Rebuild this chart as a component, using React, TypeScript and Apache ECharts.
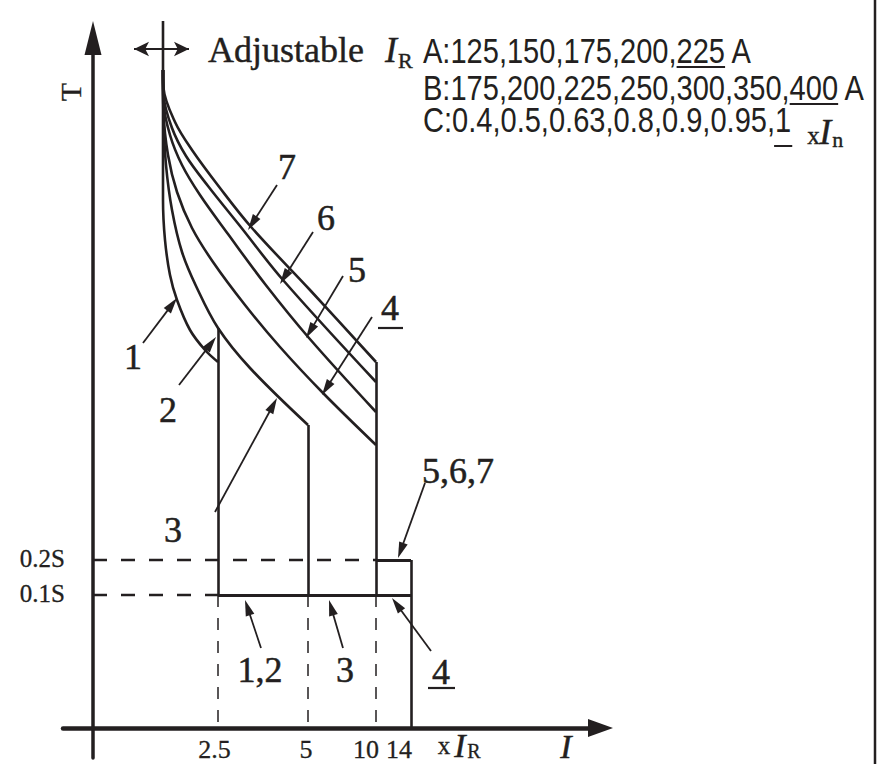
import React, { useEffect, useRef } from "react";
import * as echarts from "echarts";

type P = [number, number];

const INK = "#231f20";
const SERIF = '"Liberation Serif", "Times New Roman", serif';
const SANS = '"Liberation Sans", Arial, sans-serif';

// Schematic coordinates: u along the current axis, v along the time axis.
const curve1: P[] = [[70, 707], [70, 528], [72, 488], [77, 453], [84, 428], [97, 398], [112, 378], [125, 366]];
const curve3: P[] = [[70, 658], [70.5, 610], [73, 563], [79, 518], [89, 476], [103, 442], [125, 400], [157, 360], [215, 303]];
const curve4: P[] = [[70, 658], [70.5, 616], [75, 573], [84, 536], [99, 500], [120, 466], [152, 423], [187, 381], [230, 335], [283, 283]];
const curve5: P[] = [[70, 658], [70.5, 626], [77, 593], [89, 563], [107, 533], [135, 494], [172, 444], [216, 390], [283, 316]];
const curve6: P[] = [[70, 658], [70.5, 633], [79, 600], [93, 572], [115, 542], [147, 502], [190, 448], [283, 346]];
const curve7: P[] = [[70, 658], [70.5, 640], [82, 606], [99, 578], [127, 540], [159, 500], [217, 438], [283, 366]];

const instantaneous: P[][] = [
  [[125, 400], [125, 133]],
  [[215, 303], [215, 133]],
  [[283, 366], [283, 133]],
  [[318, 168], [318, 0]],
];
const shortTime: P[][] = [
  [[125, 133], [318, 133]],
  [[283, 168], [318, 168]],
];
const refDashH: P[][] = [
  [[0, 168], [283, 168]],
  [[0, 133], [125, 133]],
];
const refDashV: P[][] = [
  [[125, 133], [125, 0]],
  [[215, 133], [215, 0]],
  [[283, 133], [283, 0]],
];

const leaders: [P, P][] = [
  [[50, 385], [84, 430]],
  [[86, 343], [123, 391]],
  [[122, 216], [184, 330]],
  [[279, 411], [229, 333]],
  [[250, 452], [213, 390]],
  [[220, 496], [187, 444]],
  [[184, 543], [155, 498]],
  [[332, 245], [305, 170]],
  [[168, 80], [152, 128]],
  [[250, 80], [236, 128]],
  [[338, 77], [299, 130]],
];
const adjustArrow: [P, P] = [[34, 679], [103, 679]];

const curveLabels: { text: string; at: P }[] = [
  { text: "1", at: [40, 371] },
  { text: "2", at: [75, 318] },
  { text: "3", at: [80, 198] },
  { text: "4", at: [297, 420] },
  { text: "5", at: [264, 458] },
  { text: "6", at: [233, 510] },
  { text: "7", at: [194, 561] },
  { text: "5,6,7", at: [365, 257] },
  { text: "1,2", at: [167, 58] },
  { text: "3", at: [252, 58] },
  { text: "4", at: [348, 56] },
];
const underlines: P[][] = [
  [[285, 400], [310, 400]],
  [[335, 40], [362, 40]],
];

const xTickPos = [125, 215, 283, 318];
const xTickText = ["2.5", "5", "10", "14"];
const yTickPos = [133, 168];
const yTickText = ["0.1S", "0.2S"];

const rangeA = ["125", "150", "175", "200", "225"];
const rangeB = ["175", "200", "225", "250", "300", "350", "400"];
const rangeC = ["0.4", "0.5", "0.63", "0.8", "0.9", "0.95", "1"];

function pullBack(from: P, to: P, d: number): P {
  const dx = to[0] - from[0];
  const dy = to[1] - from[1];
  const L = Math.hypot(dx, dy);
  return [to[0] - (dx / L) * d, to[1] - (dy / L) * d];
}

function measure(text: string, font: string): number {
  const c = document.createElement("canvas").getContext("2d");
  if (!c) return text.length * 10;
  c.font = font;
  return c.measureText(text).width;
}

export default function App() {
  const ref = useRef<HTMLDivElement>(null);

  useEffect(() => {
    if (!ref.current) return;
    const chart = echarts.init(ref.current, undefined, { renderer: "svg" });

    const curveSeries = [curve1, curve3, curve4, curve5, curve6, curve7].map((c, i) => ({
      type: "line",
      name: "curve" + i,
      data: c,
      smooth: 0.35,
      showSymbol: false,
      symbol: "none",
      clip: false,
      silent: true,
      lineStyle: { color: INK, width: 2.6 },
    }));

    const segs = (arr: P[][], style: any, name: string) => ({
      type: "lines",
      name,
      coordinateSystem: "cartesian2d",
      polyline: false,
      clip: false,
      silent: true,
      symbol: ["none", "none"],
      lineStyle: { color: INK, opacity: 1, curveness: 0, ...style },
      data: arr.map((s) => ({ coords: s })),
    });

    const leaderSeries = {
      type: "lines",
      name: "leaders",
      coordinateSystem: "cartesian2d",
      clip: false,
      silent: true,
      symbol: ["none", "triangle"],
      symbolSize: [0, [9, 16]],
      lineStyle: { color: INK, width: 1.8, opacity: 1, curveness: 0 },
      itemStyle: { color: INK },
      data: leaders.map(([a, b]) => ({ coords: [a, pullBack(a, b, 8)] })),
    };

    const adjSeries = {
      type: "lines",
      name: "adjust",
      coordinateSystem: "cartesian2d",
      clip: false,
      silent: true,
      symbol: ["arrow", "arrow"],
      symbolSize: [[11, 15], [11, 15]],
      lineStyle: { color: INK, width: 1.8, opacity: 1, curveness: 0 },
      data: [
        {
          coords: [pullBack(adjustArrow[1], adjustArrow[0], 7), pullBack(adjustArrow[0], adjustArrow[1], 7)],
        },
      ],
    };

    const labelBase = {
      show: true,
      position: "inside",
      align: "center",
      verticalAlign: "middle",
      color: INK,
      opacity: 1,
      fontFamily: SERIF,
      textBorderColor: INK,
      textBorderWidth: 0.5,
    };

    // nudges of tick labels relative to their tick (style only)
    const xNudge = [-3.5, -2, -10, -12];

    const labelSeries = {
      type: "scatter",
      name: "labels",
      symbol: "circle",
      symbolSize: 1,
      clip: false,
      silent: true,
      itemStyle: { color: "rgba(0,0,0,0)" },
      label: { ...labelBase, fontSize: 36, formatter: (p: any) => p.name },
      data: [
        ...curveLabels.map((l) => ({ name: l.text, value: l.at })),
        ...xTickPos.map((u, i) => ({
          name: xTickText[i],
          value: [u, 0],
          label: { ...labelBase, fontSize: 26, textBorderWidth: 0.3, offset: [xNudge[i], 21] },
        })),
        ...yTickPos.map((v, i) => ({
          name: yTickText[i],
          value: [0, v],
          label: { ...labelBase, fontSize: 25, textBorderWidth: 0.3, align: "right", offset: [-28, -2] },
        })),
        { name: "T", value: [-23, 636], label: { ...labelBase, fontSize: 30, rotate: 90, textBorderWidth: 0.3 } },
        { name: "x", value: [351, -17], label: { ...labelBase, fontSize: 25, textBorderWidth: 0.3 } },
        { name: "I", value: [367, -17], label: { ...labelBase, fontSize: 34, fontStyle: "italic" } },
        { name: "R", value: [381, -23], label: { ...labelBase, fontSize: 20, textBorderWidth: 0.3 } },
        { name: "I", value: [473, -18], label: { ...labelBase, fontSize: 34, fontStyle: "italic" } },
      ],
    };

    // Header text block
    const hdrFs = 35;
    const sx = 0.83;
    const hdrFont = `${hdrFs}px "Liberation Sans", Arial, sans-serif`;
    const hx = 423;
    const lineA = `A:${rangeA.join(",")} A`;
    const lineB = `B:${rangeB.join(",")} A`;
    const lineC = `C:${rangeC.join(",")}`;
    const ul = (prefixParts: string[], lastPart: string, lead: string) => {
      const start = measure(lead + prefixParts.join(",") + ",", hdrFont) * sx;
      const end = measure(lead + prefixParts.join(",") + "," + lastPart, hdrFont) * sx;
      return [hx + start, hx + end];
    };
    const uA = ul(rangeA.slice(0, -1), rangeA[rangeA.length - 1], "A:");
    const uB = ul(rangeB.slice(0, -1), rangeB[rangeB.length - 1], "B:");
    const uC = ul(rangeC.slice(0, -1), rangeC[rangeC.length - 1], "C:");
    const cEnd = hx + measure(lineC, hdrFont) * sx;
    const adjW = measure("Adjustable", `36px "Liberation Serif"`);

    const sansText = (text: string, baseline: number) => ({
      type: "text",
      x: hx,
      y: baseline - 0.35 * hdrFs,
      scaleX: sx,
      silent: true,
      style: { text, fontSize: hdrFs, fontFamily: SANS, fill: INK, align: "left", verticalAlign: "middle" },
    });
    const serifText = (text: string, x: number, baseline: number, fs: number, italic = false) => ({
      type: "text",
      x,
      y: baseline - 0.34 * fs,
      silent: true,
      style: {
        text,
        fontSize: fs,
        fontFamily: SERIF,
        fontStyle: italic ? "italic" : "normal",
        fill: INK,
        stroke: INK,
        lineWidth: 0.4,
        align: "left",
        verticalAlign: "middle",
      },
    });
    const hline = (x1: number, x2: number, y: number, w = 2) => ({
      type: "line",
      silent: true,
      shape: { x1, y1: y, x2, y2: y },
      style: { stroke: INK, lineWidth: w },
    });

    const graphic = [
      serifText("Adjustable", 208, 62, 36),
      serifText("I", 208 + adjW + 21, 62, 36, true),
      serifText("R", 208 + adjW + 34, 68, 22),
      sansText(lineA, 63),
      sansText(lineB, 100),
      sansText(lineC, 132),
      hline(uA[0], uA[1], 67),
      hline(uB[0], uB[1], 104),
      hline(uC[0] - 1, uC[1] + 1, 146),
      serifText("x", cEnd + 16, 144, 25),
      serifText("I", cEnd + 28, 144, 36, true),
      serifText("n", cEnd + 41, 147, 22),
      {
        type: "line",
        silent: true,
        shape: { x1: 875, y1: 0, x2: 875, y2: 764 },
        style: { stroke: INK, lineWidth: 2.5 },
      },
    ];

    const option: any = {
      animation: false,
      backgroundColor: "#ffffff",
      grid: { left: 63, right: 289.5, top: 38, bottom: 6, containLabel: false, outerBoundsMode: "none" },
      xAxis: {
        type: "value",
        min: -30,
        max: 507.5,
        axisLine: {
          show: true,
          onZero: true,
          symbol: ["none", "triangle"],
          symbolSize: [18, 25],
          lineStyle: { color: INK, width: 4.5 },
        },
        axisTick: { show: false },
        splitLine: { show: false },
        axisLabel: { show: false },
      },
      yAxis: {
        type: "value",
        min: -30,
        max: 690,
        axisLine: {
          show: true,
          onZero: true,
          symbol: ["none", "triangle"],
          symbolSize: [17, 34],
          lineStyle: { color: INK, width: 3.5 },
        },
        axisTick: { show: false },
        splitLine: { show: false },
        axisLabel: { show: false },
      },
      series: [
        ...curveSeries,
        segs(instantaneous, { width: 2.6 }, "instantaneous"),
        segs(shortTime, { width: 2.8 }, "shortTime"),
        segs(refDashH, { width: 2.4, type: [14, 14] }, "dashH"),
        segs(refDashV, { width: 1.5, type: [12, 11] }, "dashV"),
        segs(underlines, { width: 2.2 }, "underlines"),
        leaderSeries,
        adjSeries,
        labelSeries,
      ],
      graphic,
    };

    chart.setOption(option);
    return () => chart.dispose();
  }, []);

  return (
    <div
      ref={ref}
      style={{ position: "absolute", left: 0, top: 0, width: 890, height: 764, background: "#fff" }}
    />
  );
}
